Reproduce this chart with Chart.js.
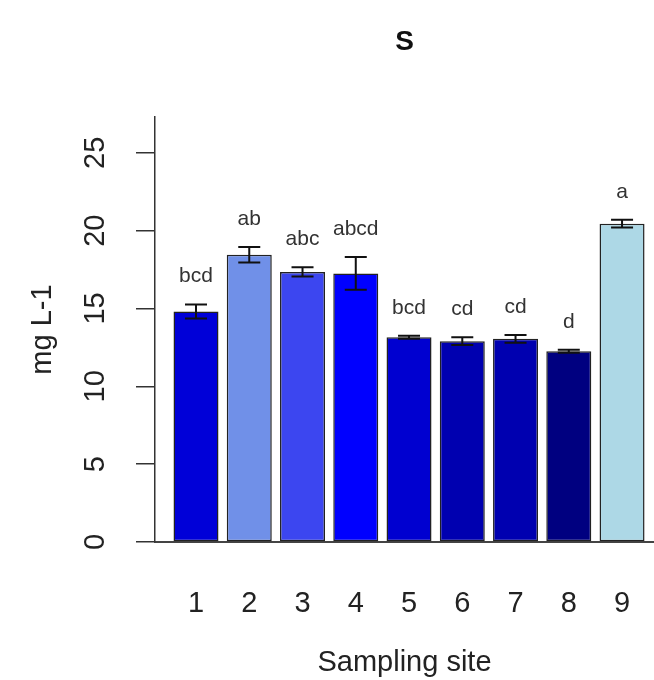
<!DOCTYPE html>
<html>
<head>
<meta charset="utf-8">
<script src="https://cdn.jsdelivr.net/npm/chart.js@4/dist/chart.umd.min.js"></script>
<style>
  html, body { margin: 0; padding: 0; background: #fff; }
  #wrap { width: 654px; height: 680px; }
</style>
</head>
<body>
<div id="wrap"><canvas id="grafico"></canvas></div>
<script>
const sites = ['1', '2', '3', '4', '5', '6', '7', '8', '9'];
const medias = [14.8, 18.45, 17.35, 17.25, 13.15, 12.9, 13.05, 12.25, 20.45];
const errores = [0.45, 0.5, 0.3, 1.05, 0.1, 0.25, 0.25, 0.1, 0.25];
const letras = ['bcd', 'ab', 'abc', 'abcd', 'bcd', 'cd', 'cd', 'd', 'a'];
const colores = ['#0000D8', '#7090E8', '#3C46F0', '#0000FF', '#0000D0', '#0000B0', '#0000B0', '#000080', '#ADD8E6'];
const yTicks = [0, 5, 10, 15, 20, 25];

const fuente = "'Liberation Sans', Arial, sans-serif";

const erroresYLetras = {
    id: 'erroresYLetras',
    afterDatasetsDraw(chart) {
        const ctx = chart.ctx;
        const y = chart.scales.y;
        const meta = chart.getDatasetMeta(0);
        ctx.save();
        meta.data.forEach((bar, i) => {
            const top = y.getPixelForValue(medias[i] + errores[i]);
            const bot = y.getPixelForValue(medias[i] - errores[i]);
            ctx.strokeStyle = '#111';
            ctx.lineWidth = 2;
            ctx.beginPath();
            ctx.moveTo(bar.x, top); ctx.lineTo(bar.x, bot);
            ctx.moveTo(bar.x - 11, top); ctx.lineTo(bar.x + 11, top);
            ctx.moveTo(bar.x - 11, bot); ctx.lineTo(bar.x + 11, bot);
            ctx.stroke();
            ctx.fillStyle = '#333';
            ctx.font = '21px ' + fuente;
            ctx.textAlign = 'center';
            ctx.textBaseline = 'middle';
            ctx.fillText(letras[i], bar.x, top - 28);
        });
        ctx.restore();
    }
};

new Chart(document.getElementById('grafico'), {
    type: 'bar',
    data: {
        datasets: [{
            data: medias.map((v, i) => ({ x: i + 1, y: v })),
            backgroundColor: colores,
            borderColor: '#222',
            borderWidth: 1.5,
            borderSkipped: false,
            barPercentage: 0.845,
            categoryPercentage: 1
        }]
    },
    options: {
        responsive: true,
        maintainAspectRatio: false,
        animation: false,
        layout: { padding: 0 },
        plugins: {
            legend: { display: false },
            tooltip: { enabled: false },
            title: {
                display: true,
                text: 'S',
                fullSize: false,
                color: '#111',
                font: { family: fuente, size: 28, weight: 'bold' },
                padding: { top: 25.2, bottom: 58.2 }
            }
        },
        scales: {
            x: {
                type: 'linear',
                offset: false,
                min: 0.23,
                max: 9.6,
                grid: { display: false, drawTicks: false },
                border: { display: true, color: '#444', width: 2 },
                afterBuildTicks: s => { s.ticks = sites.map((t, i) => ({ value: i + 1 })); },
                afterFit: s => { s.height = 138; s.paddingLeft = 0; s.paddingRight = 0; },
                ticks: {
                    padding: 45,
                    color: '#222',
                    font: { family: fuente, size: 29 },
                    callback: v => sites[v - 1]
                },
                title: {
                    display: true,
                    text: 'Sampling site',
                    color: '#222',
                    font: { family: fuente, size: 29 },
                    padding: { top: 0, bottom: 0 }
                }
            },
            y: {
                min: 0,
                max: 27.3,
                grid: { display: true, drawOnChartArea: false, drawTicks: true, tickLength: 19, color: '#333', lineWidth: 1.5 },
                border: { display: true, color: '#333', width: 1.5 },
                afterBuildTicks: s => { s.ticks = yTicks.map(v => ({ value: v })); },
                afterFit: s => { s.width = 155; },
                ticks: {
                    minRotation: 90,
                    maxRotation: 90,
                    crossAlign: 'center',
                    padding: 24,
                    color: '#222',
                    font: { family: fuente, size: 29 }
                },
                title: {
                    display: true,
                    text: 'mg L-1',
                    color: '#222',
                    font: { family: fuente, size: 29 },
                    padding: { top: 26 }
                }
            }
        }
    },
    plugins: [erroresYLetras]
});
</script>
</body>
</html>
